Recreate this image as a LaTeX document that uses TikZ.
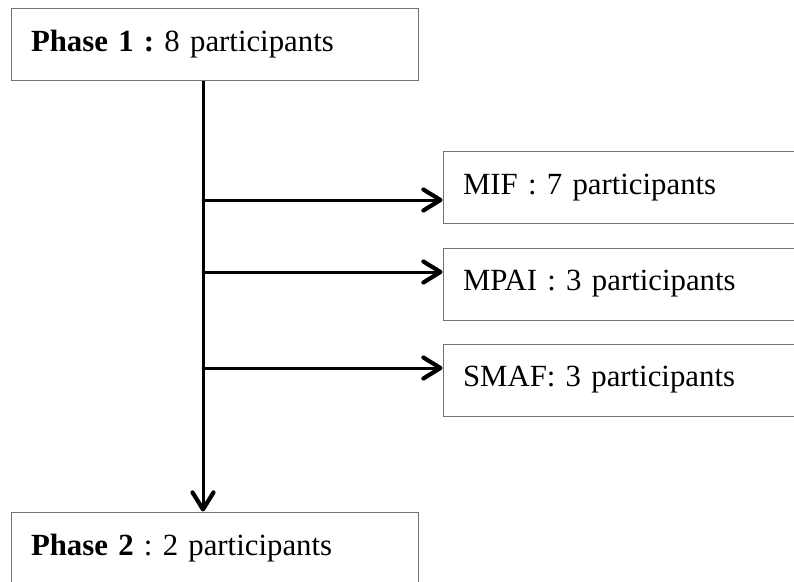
\documentclass[tikz,border=0pt]{standalone}
\usepackage{fontspec}
\setmainfont{Liberation Serif}
\usetikzlibrary{arrows.meta}

\begin{document}
\frenchspacing
\begin{tikzpicture}[x=1pt, y=-1pt,
	box/.style={draw=black!55, line width=1pt, shape=rectangle, align=left, text width=367pt, inner xsep=20pt, inner ysep=0pt, minimum height=72pt, font=\fontsize{30.8}{37}\selectfont},
	flow/.style={line width=3pt, -{Straight Barb[length=17pt,width=21pt,line width=4.2pt,round]}}]
	\useasboundingbox (0,0) rectangle (794,581);
	\clip (0,0) rectangle (794,581);
	\node [box] (phase1) at (214.5, 44) {\textbf{Phase 1 :} 8 participants};
	\node [box] (mif) at (646.5, 187.5) {MIF : 7 participants};
	\node [box] (mpai) at (646.5, 284) {MPAI : 3 participants};
	\node [box] (smaf) at (646.5, 380) {SMAF: 3 participants};
	\node [box] (phase2) at (214.5, 548) {\textbf{Phase 2} : 2 participants};
	\coordinate (b1) at (203, 200);
	\coordinate (b2) at (203, 272);
	\coordinate (b3) at (203, 368);
	\draw [flow] (phase1.south -| b1) to (phase2.north -| b1);
	\draw [flow] (b1) to (b1 -| mif.west);
	\draw [flow] (b2) to (b2 -| mpai.west);
	\draw [flow] (b3) to (b3 -| smaf.west);
\end{tikzpicture}
\end{document}
